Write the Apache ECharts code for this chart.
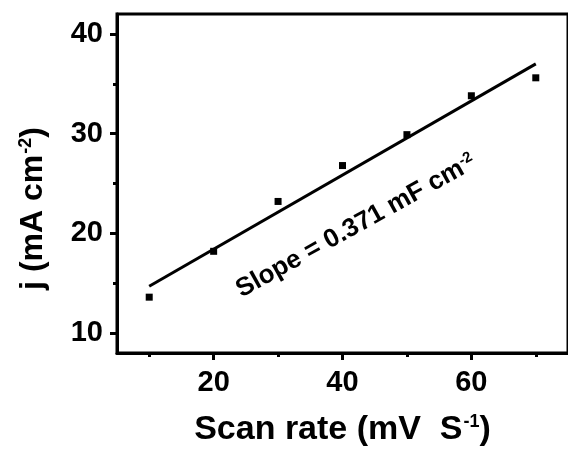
<!DOCTYPE html>
<html>
<head>
<meta charset="utf-8">
<script src="https://cdn.jsdelivr.net/npm/echarts@6/dist/echarts.min.js"></script>
<style>
  html, body { margin: 0; padding: 0; background: #fff; }
  #chart { width: 568px; height: 453px; }
</style>
</head>
<body>
<div id="chart"></div>
<script>
// measured points
const scanRate = [10, 20, 30, 40, 50, 60, 70];
const currentDensity = [13.6, 18.2, 23.2, 26.8, 29.9, 33.8, 35.6];
// linear fit ends
const fitX = [10, 70];
const fitY = [14.7, 37.0];
// ticks
const xMajor = [20, 40, 60];
const xMinor = [10, 30, 50, 70];
const yMajor = [10, 20, 30, 40];
const yMinor = [15, 25, 35];

const font = '"Liberation Sans", Arial, sans-serif';
const supStyle = { fontSize: 18, fontWeight: 'bold', fontFamily: font, color: '#000', verticalAlign: 'top', padding: [0, 0, 0, 1] };

const chart = echarts.init(document.getElementById('chart'));
chart.setOption({
  animation: false,
  grid: {
    left: 117, right: -5, top: 14, bottom: 100,
    show: true, borderColor: '#000', borderWidth: 3
  },
  xAxis: [
    {
      type: 'value', min: 5, max: 75,
      name: '{t|Scan rate (mV  S}{s|-1}{t|)}',
      nameLocation: 'middle', nameGap: 60,
      nameTextStyle: {
        rich: {
          t: { fontSize: 34, fontWeight: 'bold', fontFamily: font, color: '#000' },
          s: supStyle
        }
      },
      axisLine: { lineStyle: { color: '#000', width: 3 } },
      axisTick: { customValues: xMajor, length: 7, lineStyle: { color: '#000', width: 3 } },
      axisLabel: { customValues: xMajor, margin: 15, fontSize: 29, fontWeight: 'bold', fontFamily: font, color: '#000' },
      splitLine: { show: false }
    },
    {
      type: 'value', min: 5, max: 75, position: 'bottom',
      axisLine: { show: false },
      axisTick: { customValues: xMinor, length: 4, lineStyle: { color: '#000', width: 3 } },
      axisLabel: { show: false },
      splitLine: { show: false }
    }
  ],
  yAxis: [
    {
      type: 'value', min: 8, max: 42,
      name: '{t|j (mA cm}{s|-2}{t|)}',
      nameLocation: 'middle', nameGap: 68, nameRotate: 90,
      nameTextStyle: {
        padding: [0, 50, 0, 0],
        rich: {
          t: { fontSize: 32, fontWeight: 'bold', fontFamily: font, color: '#000' },
          s: supStyle
        }
      },
      axisLine: { lineStyle: { color: '#000', width: 3 } },
      axisTick: { customValues: yMajor, length: 7, lineStyle: { color: '#000', width: 3 } },
      axisLabel: { customValues: yMajor, margin: 14, fontSize: 29, fontWeight: 'bold', fontFamily: font, color: '#000' },
      splitLine: { show: false }
    },
    {
      type: 'value', min: 8, max: 42, position: 'left',
      axisLine: { show: false },
      axisTick: { customValues: yMinor, length: 4, lineStyle: { color: '#000', width: 3 } },
      axisLabel: { show: false },
      splitLine: { show: false }
    }
  ],
  series: [
    {
      type: 'line',
      data: fitX.map((x, i) => [x, fitY[i]]),
      symbol: 'none',
      lineStyle: { color: '#000', width: 3 },
      z: 2
    },
    {
      type: 'scatter',
      data: scanRate.map((x, i) => [x, currentDensity[i]]),
      symbol: 'rect', symbolSize: 7,
      itemStyle: { color: '#000', opacity: 1 },
      z: 3
    }
  ],
  graphic: [
    {
      type: 'text',
      x: 356, y: 226,
      rotation: 29 * Math.PI / 180,
      style: {
        text: '{t|Slope = 0.371 mF cm}{s|-2}',
        align: 'center', verticalAlign: 'middle',
        rich: {
          t: { fontSize: 26, fontWeight: 'bold', fontFamily: font, fill: '#000' },
          s: { fontSize: 15, fontWeight: 'bold', fontFamily: font, fill: '#000', verticalAlign: 'top' }
        }
      }
    }
  ]
});
</script>
</body>
</html>
